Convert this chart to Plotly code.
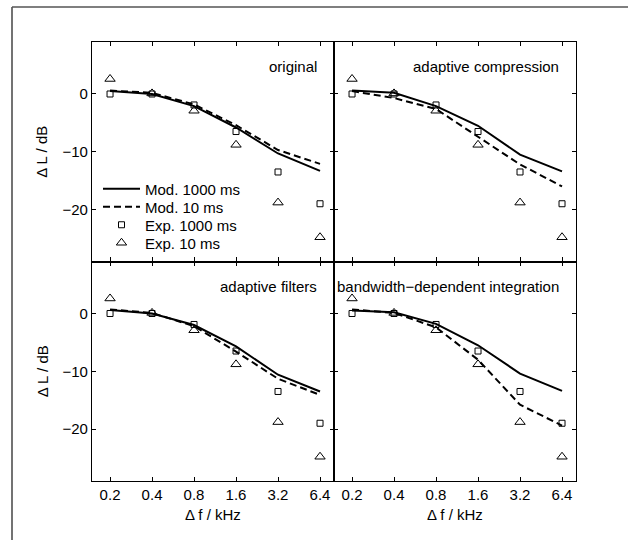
import math
import plotly.graph_objects as go
from plotly.subplots import make_subplots

# ---- data ----
freqs = [0.2, 0.4, 0.8, 1.6, 3.2, 6.4]
tick_vals = [0.2, 0.4, 0.8, 1.6, 3.2, 6.4]
tick_text = ["0.2", "0.4", "0.8", "1.6", "3.2", "6.4"]

exp_1000 = [0.0, 0.0, -1.9, -6.5, -13.5, -19.0]
exp_10 = [2.6, 0.1, -2.9, -8.8, -18.8, -24.8]

orig_1000 = [0.5, 0.0, -2.1, -5.8, -10.3, -13.3]
orig_10 = [0.6, 0.2, -1.8, -5.4, -9.7, -12.1]
comp_1000 = [0.6, 0.2, -2.1, -5.5, -10.5, -13.4]
comp_10 = [0.5, -0.7, -2.6, -7.4, -12.2, -16.0]
filt_1000 = [0.6, 0.0, -2.0, -5.7, -10.6, -13.5]
filt_10 = [0.7, 0.1, -2.2, -6.6, -11.3, -14.1]
bw_1000 = [0.5, 0.2, -1.8, -5.5, -10.4, -13.4]
bw_10 = [0.7, 0.1, -2.4, -8.0, -15.8, -19.4]

panel_titles = ["original", "adaptive compression", "adaptive filters",
                "bandwidth\u2212dependent integration"]
model_1000 = [orig_1000, comp_1000, filt_1000, bw_1000]
model_10 = [orig_10, comp_10, filt_10, bw_10]

FONT = "Liberation Sans, Arial, Helvetica, sans-serif"
W, H = 628, 540
L, R, T, B = 92, 52, 42, 59
PW, PH = W - L - R, H - T - B

fig = make_subplots(rows=2, cols=2, horizontal_spacing=0, vertical_spacing=0)

positions = [(1, 1), (1, 2), (2, 1), (2, 2)]
for i, (r, c) in enumerate(positions):
    show = (i == 0)
    fig.add_trace(go.Scatter(x=freqs, y=model_1000[i], mode="lines", name="Mod. 1000 ms",
                             line=dict(color="black", width=2), showlegend=show,
                             legend="legend"), row=r, col=c)
    fig.add_trace(go.Scatter(x=freqs, y=model_10[i], mode="lines", name="Mod. 10 ms",
                             line=dict(color="black", width=2, dash="7px,4px"), showlegend=show,
                             legend="legend2"), row=r, col=c)
    fig.add_trace(go.Scatter(x=freqs, y=exp_1000, mode="markers", name="Exp. 1000 ms",
                             marker=dict(symbol="square-open", size=6, color="black",
                                         line=dict(width=1, color="black")), showlegend=show,
                             legend="legend3"), row=r, col=c)
    fig.add_trace(go.Scatter(x=freqs, y=exp_10, mode="markers", name="Exp. 10 ms",
                             marker=dict(symbol="triangle-up-open", size=9, color="black",
                                         line=dict(width=1, color="black")), showlegend=show,
                             legend="legend4"), row=r, col=c)

xrange = [math.log10(0.1485), math.log10(8.06)]
axis_common = dict(showline=True, mirror="ticks", linecolor="black", linewidth=1.2,
                   ticks="inside", ticklen=4, tickwidth=1, tickcolor="black",
                   showgrid=False, zeroline=False,
                   tickfont=dict(family=FONT, size=15, color="black"))
for i, (r, c) in enumerate(positions):
    fig.update_xaxes(type="log", range=xrange, tickvals=tick_vals, ticktext=tick_text,
                     showticklabels=(r == 2), row=r, col=c, **axis_common)
    fig.update_yaxes(range=[-29, 9], tickvals=[-20, -10, 0],
                     showticklabels=(c == 1), row=r, col=c, **axis_common)

annotations = []
axn = ["", "2", "3", "4"]
for i, t in enumerate(panel_titles):
    annotations.append(dict(text=t, xref=f"x{axn[i]} domain", yref=f"y{axn[i]} domain",
                            x=1, y=1, xanchor="right", yanchor="middle", xshift=-15, yshift=-24.5,
                            showarrow=False, font=dict(family=FONT, size=15, color="black")))
# axis titles
for yc in [0.75, 0.25]:
    annotations.append(dict(text="\u0394 L / dB", xref="paper", yref="paper",
                            x=(42 - L) / PW, y=yc, xanchor="center", yanchor="middle",
                            textangle=-90, showarrow=False,
                            font=dict(family=FONT, size=15, color="black")))
for xc in [0.25, 0.75]:
    annotations.append(dict(text="\u0394 f / kHz", xref="paper", yref="paper",
                            x=xc, y=-(514 - (H - B)) / PH, xanchor="center", yanchor="middle",
                            showarrow=False, font=dict(family=FONT, size=15, color="black")))

shapes = [
    dict(type="line", xref="paper", yref="paper",
         x0=(12 - L) / PW, x1=(12 - L) / PW, y0=1 + (T - 7) / PH, y1=-(B + 5) / PH,
         line=dict(color="#444444", width=1.5)),
    dict(type="line", xref="paper", yref="paper",
         x0=(12 - L) / PW, x1=(W + 5 - L) / PW, y0=1 + (T - 7) / PH, y1=1 + (T - 7) / PH,
         line=dict(color="#555555", width=1.5)),
]

legend_rows = [189, 207, 225, 243]
legend_x = (98 - L) / PW
leg_common = dict(x=legend_x, xanchor="left", yanchor="middle",
                  bgcolor="rgba(0,0,0,0)", borderwidth=0, itemwidth=37,
                  font=dict(family=FONT, size=15, color="black"))

fig.update_layout(
    width=W, height=H,
    margin=dict(l=L, r=R, t=T, b=B),
    paper_bgcolor="white", plot_bgcolor="white",
    font=dict(family=FONT, size=15, color="black"),
    annotations=annotations, shapes=shapes,
    legend=dict(y=1 - (legend_rows[0] - T) / PH, **leg_common),
    legend2=dict(y=1 - (legend_rows[1] - T) / PH, **leg_common),
    legend3=dict(y=1 - (legend_rows[2] - T) / PH, **leg_common),
    legend4=dict(y=1 - (legend_rows[3] - T) / PH, **leg_common),
    showlegend=True,
)

fig.write_html("out.html")
